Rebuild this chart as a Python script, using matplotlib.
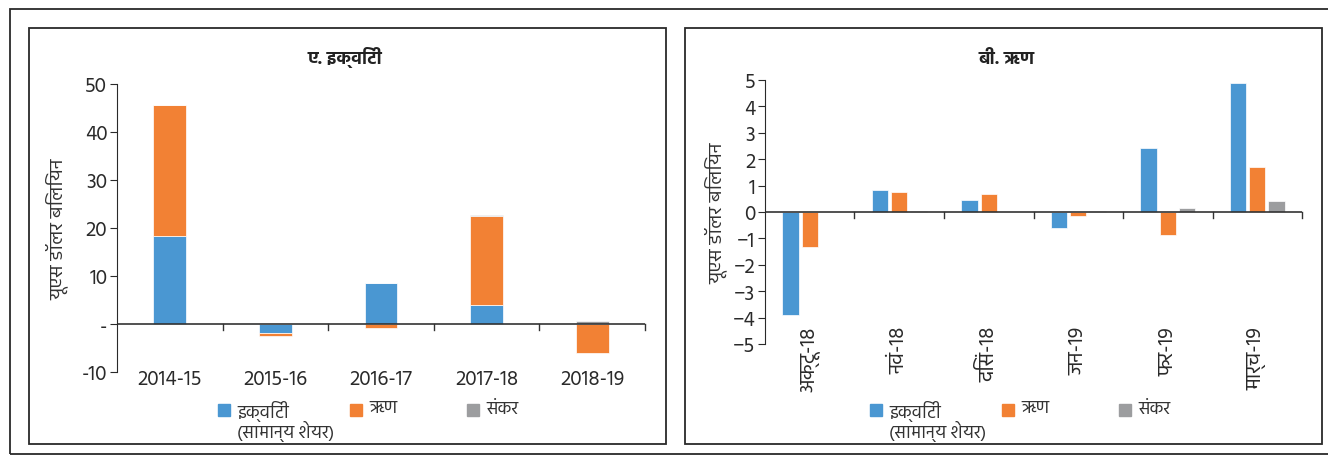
import numpy as np
import matplotlib
matplotlib.use("Agg")
import matplotlib.pyplot as plt
from matplotlib import font_manager
from matplotlib.patches import Rectangle

# Panel A: annual flows (US$ billion)
years = ["2014-15", "2015-16", "2016-17", "2017-18", "2018-19"]
equity_a = [18.3, -1.9, 8.5, 4.0, 0.0]
debt_a = [27.3, -0.5, -0.9, 18.4, -6.0]
hybrid_a = [0.0, 0.0, 0.0, 0.3, 0.6]

# Panel B: monthly flows (US$ billion)
months = ["अक्टू-18", "नवं-18", "दिसं-18", "जन-19", "फर-19", "मार्च-19"]
equity_b = [-3.92, 0.84, 0.45, -0.60, 2.42, 4.87]
debt_b = [-1.34, 0.76, 0.67, -0.15, -0.86, 1.71]
hybrid_b = [0.0, 0.05, 0.0, 0.05, 0.15, 0.41]

ticks_a = [-10, 0, 10, 20, 30, 40, 50]
ticklabels_a = ["-10", "-", "10", "20", "30", "40", "50"]
ticks_b = list(range(-5, 6))

legend_labels = ["इक्विटी\n(सामान्य शेयर)", "ऋण", "संकर"]
titles = ["ए. इक्विटी", "बी. ऋण"]
ylabel = "यूएस डॉलर बिलियन"

BLUE = "#4a97d2"
ORANGE = "#f28134"
GRAY = "#9c9d9f"
INK = "#2a2a2a"

installed = {f.name for f in font_manager.fontManager.ttflist}
deva = [n for n in ["Hind", "Mukta", "Noto Sans Devanagari", "FreeSans"] if n in installed]
plt.rcParams["font.family"] = deva[:1] + ["DejaVu Sans"]

W, H = 1328, 456
fig = plt.figure(figsize=(W / 100, H / 100), dpi=100)


def px_rect(x0, y0, x1, y1):
    return [x0 / W, 1 - y1 / H, (x1 - x0) / W, (y1 - y0) / H]


# outer frame and the two panel boxes
for (x0, y0, x1, y1) in [(10, 10, 1340, 455), (29, 29, 666, 445), (685, 29, 1322, 445)]:
    fig.patches.append(Rectangle((x0 / W, 1 - y1 / H), (x1 - x0) / W, (y1 - y0) / H,
                                 transform=fig.transFigure, fill=False,
                                 edgecolor=INK, linewidth=1.3))


def style_axes(ax):
    for s in ["top", "right", "bottom"]:
        ax.spines[s].set_visible(False)
    ax.spines["left"].set_color(INK)
    ax.tick_params(axis="y", direction="out", length=5, labelsize=15, colors=INK, pad=2)
    ax.tick_params(axis="x", length=0, colors=INK)


# ---- Panel A: stacked bars ----
axA = fig.add_axes(px_rect(117, 85, 645, 373))
x = np.arange(len(years))
pos_base = np.zeros(len(years))
neg_base = np.zeros(len(years))
for vals, col in [(equity_a, BLUE), (debt_a, ORANGE), (hybrid_a, GRAY)]:
    vals = np.array(vals)
    base = np.where(vals >= 0, pos_base, neg_base)
    axA.bar(x, vals, 0.31, bottom=base, color=col, edgecolor="white", linewidth=0.5)
    pos_base += np.where(vals > 0, vals, 0)
    neg_base += np.where(vals < 0, vals, 0)
axA.set_xlim(-0.5, len(years) - 0.5)
axA.set_ylim(-10, 50)
axA.set_yticks(ticks_a)
axA.set_yticklabels(ticklabels_a)
axA.axhline(0, color="#333333", linewidth=1.2)
for b in np.arange(0.5, len(years), 1):
    axA.plot([b, b], [0, -1.2], color="#333333", linewidth=1, clip_on=False)
axA.set_xticks(x)
axA.set_xticklabels(years, fontsize=15)
style_axes(axA)
axA.tick_params(axis="x", pad=-2)
axA.set_ylabel(ylabel, fontsize=14, color="#333333", labelpad=10)

# ---- Panel B: grouped bars ----
axB = fig.add_axes(px_rect(765, 81, 1302, 345))
xb = np.arange(len(months))
bw = 0.18
for i, (vals, col) in enumerate([(equity_b, BLUE), (debt_b, ORANGE), (hybrid_b, GRAY)]):
    axB.bar(xb + (i - 1) * 0.215, vals, bw, color=col, edgecolor="white", linewidth=0.5)
axB.set_xlim(-0.5, len(months) - 0.5)
axB.set_ylim(-5, 5)
axB.set_yticks(ticks_b)
axB.axhline(0, color="#333333", linewidth=1.2)
for b in np.arange(0.5, len(months), 1):
    axB.plot([b, b], [0, -0.22], color="#333333", linewidth=1, clip_on=False)
axB.set_xticks(xb)
axB.set_xticklabels(months, rotation=90, fontsize=15)
style_axes(axB)
axB.tick_params(axis="x", pad=-13)
axB.set_ylabel(ylabel, fontsize=14, color="#333333", labelpad=4)

# panel titles
for cx, t in zip([345, 1007], titles):
    fig.text(cx / W, 1 - 58 / H, t, fontsize=13, fontweight="bold",
             ha="center", va="center", color="#222222")

# legends: colour squares with labels below each panel
for xs in [(218, 350, 467), (870, 1002, 1119)]:
    for xpos, lab, col in zip(xs, legend_labels, [BLUE, ORANGE, GRAY]):
        fig.patches.append(Rectangle((xpos / W, 1 - 417 / H), 12 / W, 12 / H,
                                     transform=fig.transFigure, color=col))
        fig.text((xpos + 19) / W, 1 - 401 / H, lab, fontsize=13, va="top",
                 ha="left", color="#333333", linespacing=0.95)

fig.savefig("out.png", dpi=100)
